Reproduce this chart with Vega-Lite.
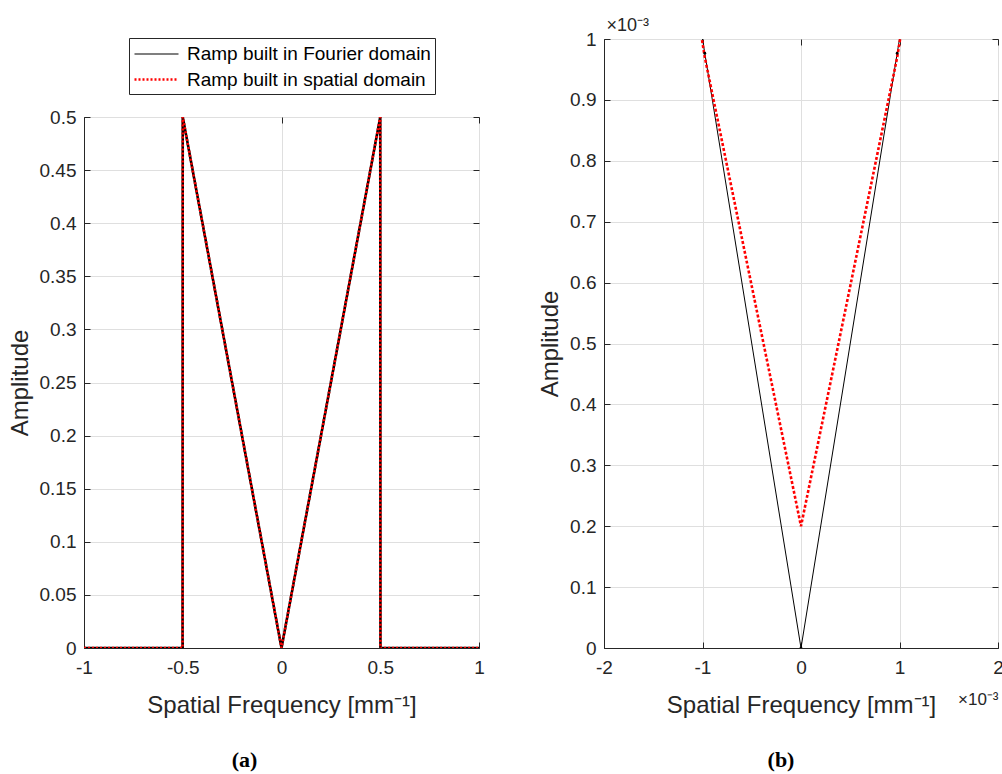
{
  "$schema": "https://vega.github.io/schema/vega-lite/v6.json",
  "background": "white",
  "padding": {"left": 7, "top": 15, "right": 0, "bottom": 0},
  "spacing": 53,
  "datasets": {
    "ramp": [
      {"f": -1, "amp": 0, "series": "Ramp built in Fourier domain"},
      {"f": -0.5009765625, "amp": 0, "series": "Ramp built in Fourier domain"},
      {"f": -0.5, "amp": 0.5, "series": "Ramp built in Fourier domain"},
      {"f": -0.001953125, "amp": 0.001953125, "series": "Ramp built in Fourier domain"},
      {"f": -0.0009765625, "amp": 0.0009765625, "series": "Ramp built in Fourier domain"},
      {"f": 0, "amp": 0, "series": "Ramp built in Fourier domain"},
      {"f": 0.0009765625, "amp": 0.0009765625, "series": "Ramp built in Fourier domain"},
      {"f": 0.001953125, "amp": 0.001953125, "series": "Ramp built in Fourier domain"},
      {"f": 0.5, "amp": 0.5, "series": "Ramp built in Fourier domain"},
      {"f": 0.5009765625, "amp": 0, "series": "Ramp built in Fourier domain"},
      {"f": 1, "amp": 0, "series": "Ramp built in Fourier domain"},
      {"f": -1, "amp": 0, "series": "Ramp built in spatial domain"},
      {"f": -0.5009765625, "amp": 0, "series": "Ramp built in spatial domain"},
      {"f": -0.5, "amp": 0.5, "series": "Ramp built in spatial domain"},
      {"f": -0.001953125, "amp": 0.00195, "series": "Ramp built in spatial domain"},
      {"f": -0.0009765625, "amp": 0.00097, "series": "Ramp built in spatial domain"},
      {"f": 0, "amp": 0.0002, "series": "Ramp built in spatial domain"},
      {"f": 0.0009765625, "amp": 0.00097, "series": "Ramp built in spatial domain"},
      {"f": 0.001953125, "amp": 0.00195, "series": "Ramp built in spatial domain"},
      {"f": 0.5, "amp": 0.5, "series": "Ramp built in spatial domain"},
      {"f": 0.5009765625, "amp": 0, "series": "Ramp built in spatial domain"},
      {"f": 1, "amp": 0, "series": "Ramp built in spatial domain"}
    ]
  },
  "config": {
    "font": "Liberation Sans",
    "view": {"stroke": "#262626", "strokeWidth": 1},
    "axis": {
      "labelFont": "Liberation Sans", "labelFontSize": 19, "labelColor": "#262626",
      "titleFont": "Liberation Sans", "titleFontSize": 24, "titleFontWeight": "normal", "titleColor": "#262626",
      "domainColor": "#262626", "tickColor": "#262626", "gridColor": "#dfdfdf",
      "tickSize": -6, "labelPadding": 14, "titlePadding": 7,
      "labelFlush": false, "labelOverlap": false
    },
    "axisX": {"titlePadding": 16, "labelPadding": 16},
    "legend": {
      "orient": "none", "legendX": 45, "legendY": -1, "direction": "vertical",
      "symbolType": "M-1,0H3", "symbolSize": 484,
      "labelFont": "Liberation Sans", "labelFontSize": 19, "labelColor": "#000000",
      "labelLimit": 500, "labelOffset": 29, "padding": 4, "rowPadding": 3,
      "strokeColor": "#262626", "fillColor": "#ffffff", "cornerRadius": 0
    },
    "title": {"font": "Liberation Serif", "fontSize": 22, "fontWeight": "bold", "color": "#000000", "anchor": "middle"}
  },
  "hconcat": [
    {
      "spacing": 67,
      "vconcat": [
        {
          "width": 395, "height": 1,
          "data": {"values": []},
          "view": {"stroke": null},
          "mark": {"type": "point", "opacity": 0},
          "encoding": {}
        },
        {
          "width": 395, "height": 531,
          "data": {"name": "ramp"},
          "title": {"text": "(a)", "orient": "bottom", "offset": 33, "dx": -37},
          "layer": [
            {
              "transform": [{"filter": "datum.series === 'Ramp built in Fourier domain'"}],
              "mark": {"type": "line", "strokeWidth": 2.6, "clip": true},
              "encoding": {
                "x": {"field": "f", "type": "quantitative",
                  "scale": {"domain": [-1, 1], "nice": false, "zero": false},
                  "axis": {"orient": "bottom", "values": [-1, -0.5, 0, 0.5, 1], "title": "Spatial Frequency [mm⁻¹]", "labelExpr": "'' + datum.value"}},
                "y": {"field": "amp", "type": "quantitative",
                  "scale": {"domain": [0, 0.5], "nice": false, "zero": false},
                  "axis": {"orient": "left", "values": [0, 0.05, 0.1, 0.15, 0.2, 0.25, 0.3, 0.35, 0.4, 0.45, 0.5], "title": "Amplitude", "labelExpr": "'' + datum.value"}},
                "color": {"field": "series", "type": "nominal", "title": null,
                  "scale": {"domain": ["Ramp built in Fourier domain", "Ramp built in spatial domain"], "range": ["#000000", "#ff0000"]}},
                "strokeDash": {"field": "series", "type": "nominal", "title": null,
                  "scale": {"domain": ["Ramp built in Fourier domain", "Ramp built in spatial domain"], "range": [[1, 0], [2, 2]]}}
              }
            },
            {
              "transform": [{"filter": "datum.series === 'Ramp built in spatial domain'"}],
              "mark": {"type": "line", "clip": true},
              "encoding": {
                "x": {"field": "f", "type": "quantitative",
                  "axis": {"orient": "top", "values": [-1, -0.5, 0, 0.5, 1], "labels": false, "domain": false, "grid": false, "title": null}},
                "y": {"field": "amp", "type": "quantitative",
                  "axis": {"orient": "right", "values": [0, 0.05, 0.1, 0.15, 0.2, 0.25, 0.3, 0.35, 0.4, 0.45, 0.5], "labels": false, "domain": false, "grid": false, "title": null}},
                "color": {"field": "series", "type": "nominal", "title": null,
                  "scale": {"domain": ["Ramp built in Fourier domain", "Ramp built in spatial domain"], "range": ["#000000", "#ff0000"]}},
                "strokeDash": {"field": "series", "type": "nominal", "title": null,
                  "scale": {"domain": ["Ramp built in Fourier domain", "Ramp built in spatial domain"], "range": [[1, 0], [2, 2]]}},
                "strokeWidth": {"field": "series", "type": "ordinal", "title": null,
                  "scale": {"domain": ["Ramp built in Fourier domain", "Ramp built in spatial domain"], "range": [1.2, 2.6]}}
              }
            }
          ],
          "resolve": {"axis": {"x": "independent", "y": "independent"}}
        }
      ]
    },
    {
      "width": 394, "height": 609,
      "data": {"name": "ramp"},
      "title": {"text": "(b)", "orient": "bottom", "offset": 33, "dx": -20},
      "layer": [
        {
          "transform": [{"filter": "datum.series === 'Ramp built in Fourier domain'"}],
          "mark": {"type": "line", "color": "#000000", "strokeWidth": 1, "clip": true},
          "encoding": {
            "x": {"field": "f", "type": "quantitative",
              "scale": {"domain": [-0.002, 0.002], "nice": false, "zero": false},
              "axis": {"orient": "bottom", "values": [-0.002, -0.001, 0, 0.001, 0.002], "title": "Spatial Frequency [mm⁻¹]", "labelExpr": "'' + round(datum.value*10000)/10"}},
            "y": {"field": "amp", "type": "quantitative",
              "scale": {"domain": [0, 0.001], "nice": false, "zero": false},
              "axis": {"orient": "left", "values": [0, 0.0001, 0.0002, 0.0003, 0.0004, 0.0005, 0.0006, 0.0007, 0.0008, 0.0009, 0.001], "title": "Amplitude", "labelExpr": "'' + round(datum.value*10000)/10"}}
          }
        },
        {
          "transform": [{"filter": "datum.series === 'Ramp built in spatial domain'"}],
          "mark": {"type": "line", "color": "#ff0000", "strokeWidth": 2.6, "strokeDash": [3, 2], "clip": true},
          "encoding": {
            "x": {"field": "f", "type": "quantitative",
              "axis": {"orient": "top", "values": [-0.002, -0.001, 0, 0.001, 0.002], "labels": false, "domain": false, "grid": false,
                "title": "×10⁻³", "titleX": 2, "titleY": -5, "titleBaseline": "bottom", "titleAlign": "left", "titleFontSize": 18}},
            "y": {"field": "amp", "type": "quantitative",
              "axis": {"orient": "right", "values": [0, 0.0001, 0.0002, 0.0003, 0.0004, 0.0005, 0.0006, 0.0007, 0.0008, 0.0009, 0.001], "labels": false, "domain": false, "grid": false, "title": null}}
          }
        },
        {
          "transform": [{"filter": "datum.series === 'Ramp built in Fourier domain'"}],
          "mark": {"type": "point", "filled": true, "color": "#000000", "size": 8, "opacity": 1, "clip": true},
          "encoding": {
            "x": {"field": "f", "type": "quantitative",
              "axis": {"orient": "bottom", "values": [], "labels": false, "ticks": false, "domain": false, "grid": false,
                "title": "×10⁻³", "titleX": 394, "titleY": 56, "titleBaseline": "alphabetic", "titleAlign": "right", "titleFontSize": 17}},
            "y": {"field": "amp", "type": "quantitative", "axis": null}
          }
        }
      ],
      "resolve": {"axis": {"x": "independent", "y": "independent"}}
    }
  ]
}
